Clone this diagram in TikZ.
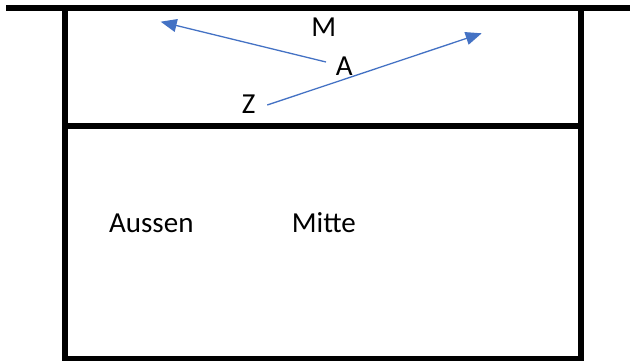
\documentclass[tikz,border=0pt]{standalone}
\usepackage{fontspec}
\setmainfont{Carlito}
\usetikzlibrary{arrows.meta}
\definecolor{arrowblue}{HTML}{4472C4}
\begin{document}
\begin{tikzpicture}[x=1pt,y=-1pt,
  wall/.style={line width=5.5pt, line cap=rect, line join=miter},
  lbl/.style={font=\fontsize{29}{35}\selectfont, inner sep=0pt, anchor=base},
  arr/.style={draw=arrowblue, line width=1.3pt, -{Triangle[length=16pt,width=13pt]}}]
\useasboundingbox (0,0) rectangle (630,361);
% walls
\draw[wall] (8.5,8) -- (635,8);
\draw[wall] (65,8) -- (65,358.5) -- (581,358.5) -- (581,8);
\draw[wall] (65,126) -- (581,126);
% labels
\node[lbl] (M) at (323.8,37) {M};
\node[lbl] (A) at (344.3,76) {A};
\node[lbl] (Z) at (248.7,113.7) {Z};
\node[lbl] (aussen) at (151.3,232.3) {Aussen};
\node[lbl] (mitte) at (323.8,232.3) {Mitte};
% arrows
\coordinate (a1s) at (326,62);
\coordinate (a1e) at (160.7,21.7);
\coordinate (a2s) at (267.3,105);
\coordinate (a2e) at (481.7,33.3);
\draw[arr] (a1s) -- (a1e);
\draw[arr] (a2s) -- (a2e);
\end{tikzpicture}
\end{document}
